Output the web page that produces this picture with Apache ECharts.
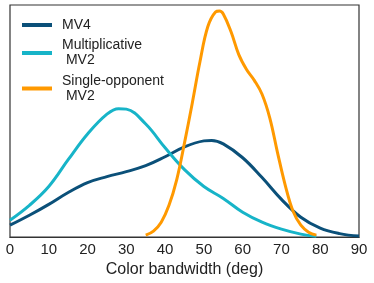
<!DOCTYPE html>
<html><head><meta charset="utf-8">
<script src="https://cdn.jsdelivr.net/npm/echarts@6/dist/echarts.min.js"></script>
<style>html,body{margin:0;padding:0;background:#fff}#c{width:374px;height:283px}</style>
</head><body><div id="c"></div>
<script>
var seriesNames = ['MV4', 'Multiplicative\n MV2', 'Single-opponent\n MV2'];
var xTicks = [0, 10, 20, 30, 40, 50, 60, 70, 80, 90];
var mv4X = [0, 5, 10, 15, 20, 25, 30, 35, 40, 45, 50, 52, 55, 60, 65, 70, 75, 80, 85, 90];
var mv4Y = [12, 22, 33, 45, 55, 61, 66, 72, 81, 91, 97, 97.5, 94, 80, 60, 38, 20, 9, 3.5, 1];
var multX = [0, 5, 10, 15, 20, 25, 28, 30, 35, 40, 45, 50, 55, 60, 65, 70, 75, 79];
var multY = [17, 32, 51, 78, 104, 124, 129.5, 129, 114, 90, 68, 51, 39, 25, 15, 8, 3, 0.8];
var singX = [35, 37, 39, 41, 43, 45, 47, 49, 51, 53, 54, 55, 57, 59, 61, 63, 65, 67, 69, 71, 73, 75, 77, 79];
var singY = [2, 6, 15, 32, 58, 95, 135, 177, 212, 227, 228, 225, 207, 184, 169, 158, 144, 120, 85, 52, 26, 12, 5, 2];
var colors = ['#0b5079', '#17b4c8', '#ff9900'];

function pairs(xs, ys) { return xs.map(function (x, i) { return [x, ys[i]]; }); }
var chart = echarts.init(document.getElementById('c'), null, {renderer: 'canvas'});
var font = 'Arial, "Liberation Sans", sans-serif';
var data = [pairs(mv4X, mv4Y), pairs(multX, multY), pairs(singX, singY)];
chart.setOption({
  animation: false,
  grid: {left: 10, right: 15, top: 5, bottom: 44, show: true, borderColor: '#333', borderWidth: 1.2, backgroundColor: 'transparent'},
  legend: {
    orient: 'vertical', left: 22, top: 17.5, padding: 0, itemGap: 5.5,
    icon: 'rect', itemWidth: 30, itemHeight: 4,
    textStyle: {fontFamily: font, fontSize: 14, color: '#222', lineHeight: 15, padding: [0, 0, 0, 5]},
    data: seriesNames
  },
  xAxis: {
    type: 'value', min: 0, max: 90, interval: 10,
    axisLine: {show: true, lineStyle: {color: '#333', width: 1.2}},
    axisTick: {show: false}, splitLine: {show: false},
    axisLabel: {fontFamily: font, fontSize: 15, color: '#222', margin: 5,
      formatter: function (v) { return xTicks.indexOf(v) >= 0 ? String(v) : ''; }},
    name: 'Color bandwidth (deg)', nameLocation: 'middle', nameGap: 24,
    nameTextStyle: {fontFamily: font, fontSize: 16, color: '#222'}
  },
  yAxis: {type: 'value', min: 0, max: 234, show: false, splitLine: {show: false}},
  series: data.map(function (d, i) {
    return {name: seriesNames[i], type: 'line', data: d, smooth: 0.4, showSymbol: false, symbol: 'none',
      lineStyle: {color: colors[i], width: 3}, itemStyle: {color: colors[i]}, z: 3 + i};
  })
});
</script></body></html>
